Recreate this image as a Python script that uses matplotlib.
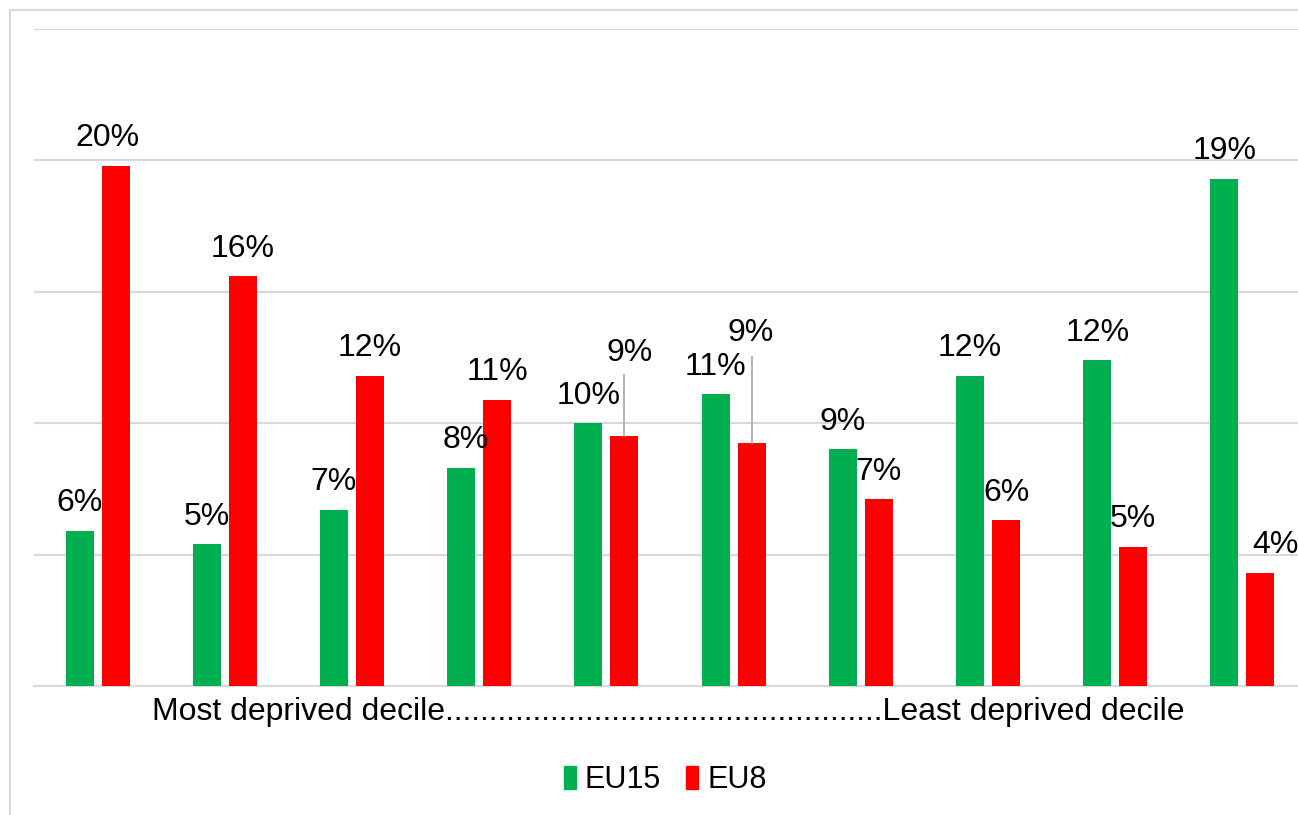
import matplotlib
matplotlib.use('Agg')
import numpy as np
import matplotlib.pyplot as plt
from matplotlib.lines import Line2D

# share of each group by deprivation decile (%), most -> least deprived
deciles = np.arange(1, 11)
eu15 = [5.9, 5.4, 6.7, 8.3, 10.0, 11.1, 9.0, 11.8, 12.4, 19.3]
eu8 = [19.8, 15.6, 11.8, 10.9, 9.5, 9.25, 7.1, 6.3, 5.3, 4.3]
eu15_lab = ['6%', '5%', '7%', '8%', '10%', '11%', '9%', '12%', '12%', '19%']
eu8_lab = ['20%', '16%', '12%', '11%', '9%', '9%', '7%', '6%', '5%', '4%']

GREEN = '#00B050'
RED = '#FF0000'
GRID = '#d9d9d9'

plt.rcParams['font.family'] = ['Liberation Sans', 'DejaVu Sans']

fig = plt.figure(figsize=(12.98, 8.15), dpi=100)
W, H = 1298., 815.
ax = fig.add_axes([34/W, 129/H, 1272/W, 657/H])

off = 0.1416
bw = 0.22
ax.bar(deciles - off, eu15, bw, color=GREEN, zorder=3)
ax.bar(deciles + off, eu8, bw, color=RED, zorder=3)

lab_kw = dict(fontsize=23, ha='center', va='bottom')
for i, (x, v, s) in enumerate(zip(deciles, eu15, eu15_lab)):
    dx = 3 if i == 3 else 0
    ax.annotate(s, (x - off, v), xytext=(dx, 9), textcoords='offset points', **lab_kw)

# EU8 labels; deciles 5 and 6 are lifted and get a leader line
lifted = {4: (4, 49, 11.83), 5: (-1, 68, 12.52)}
for i, (x, v, s) in enumerate(zip(deciles, eu8, eu8_lab)):
    dx = 0
    dy = 9
    if i in lifted:
        dx, dy, ltop = lifted[i]
        ax.plot([x + off, x + off], [v, ltop], color='#a6a6a6', lw=1.2, zorder=4)
    elif i == 9:
        dx = 11
    elif i == 0:
        dx = -6
    ax.annotate(s, (x + off, v), xytext=(dx, dy), textcoords='offset points', **lab_kw)

ax.set_xlim(0.5, 10.5)
ax.set_ylim(0, 25)
ax.set_yticks(np.arange(0, 26, 5))
ax.set_yticklabels([])
ax.set_xticks([])
ax.tick_params(left=False, bottom=False)
ax.grid(axis='y', color=GRID, lw=1.5, zorder=0)
for s in ['top', 'right', 'left']:
    ax.spines[s].set_visible(False)
ax.spines['bottom'].set_color(GRID)
ax.spines['bottom'].set_linewidth(1.5)

fig.text(668/W, 1 - 712/H,
         'Most deprived decile' + '.' * 50 + 'Least deprived decile',
         ha='center', va='center', fontsize=23)

handles = [plt.Rectangle((0, 0), 1, 1, color=GREEN), plt.Rectangle((0, 0), 1, 1, color=RED)]
fig.legend(handles, ['EU15', 'EU8'], loc='center', bbox_to_anchor=(665/W, 1 - 780/H),
           ncol=2, frameon=False, fontsize=22, handlelength=0.4, handleheight=0.8,
           handletextpad=0.3, columnspacing=0.8)

# light border round the chart area
fig.add_artist(Line2D([10/W, 1], [1 - 10/H, 1 - 10/H], color=GRID, lw=1.5))
fig.add_artist(Line2D([10/W, 10/W], [0, 1 - 10/H], color=GRID, lw=1.5))

fig.savefig('out.png', dpi=100)
